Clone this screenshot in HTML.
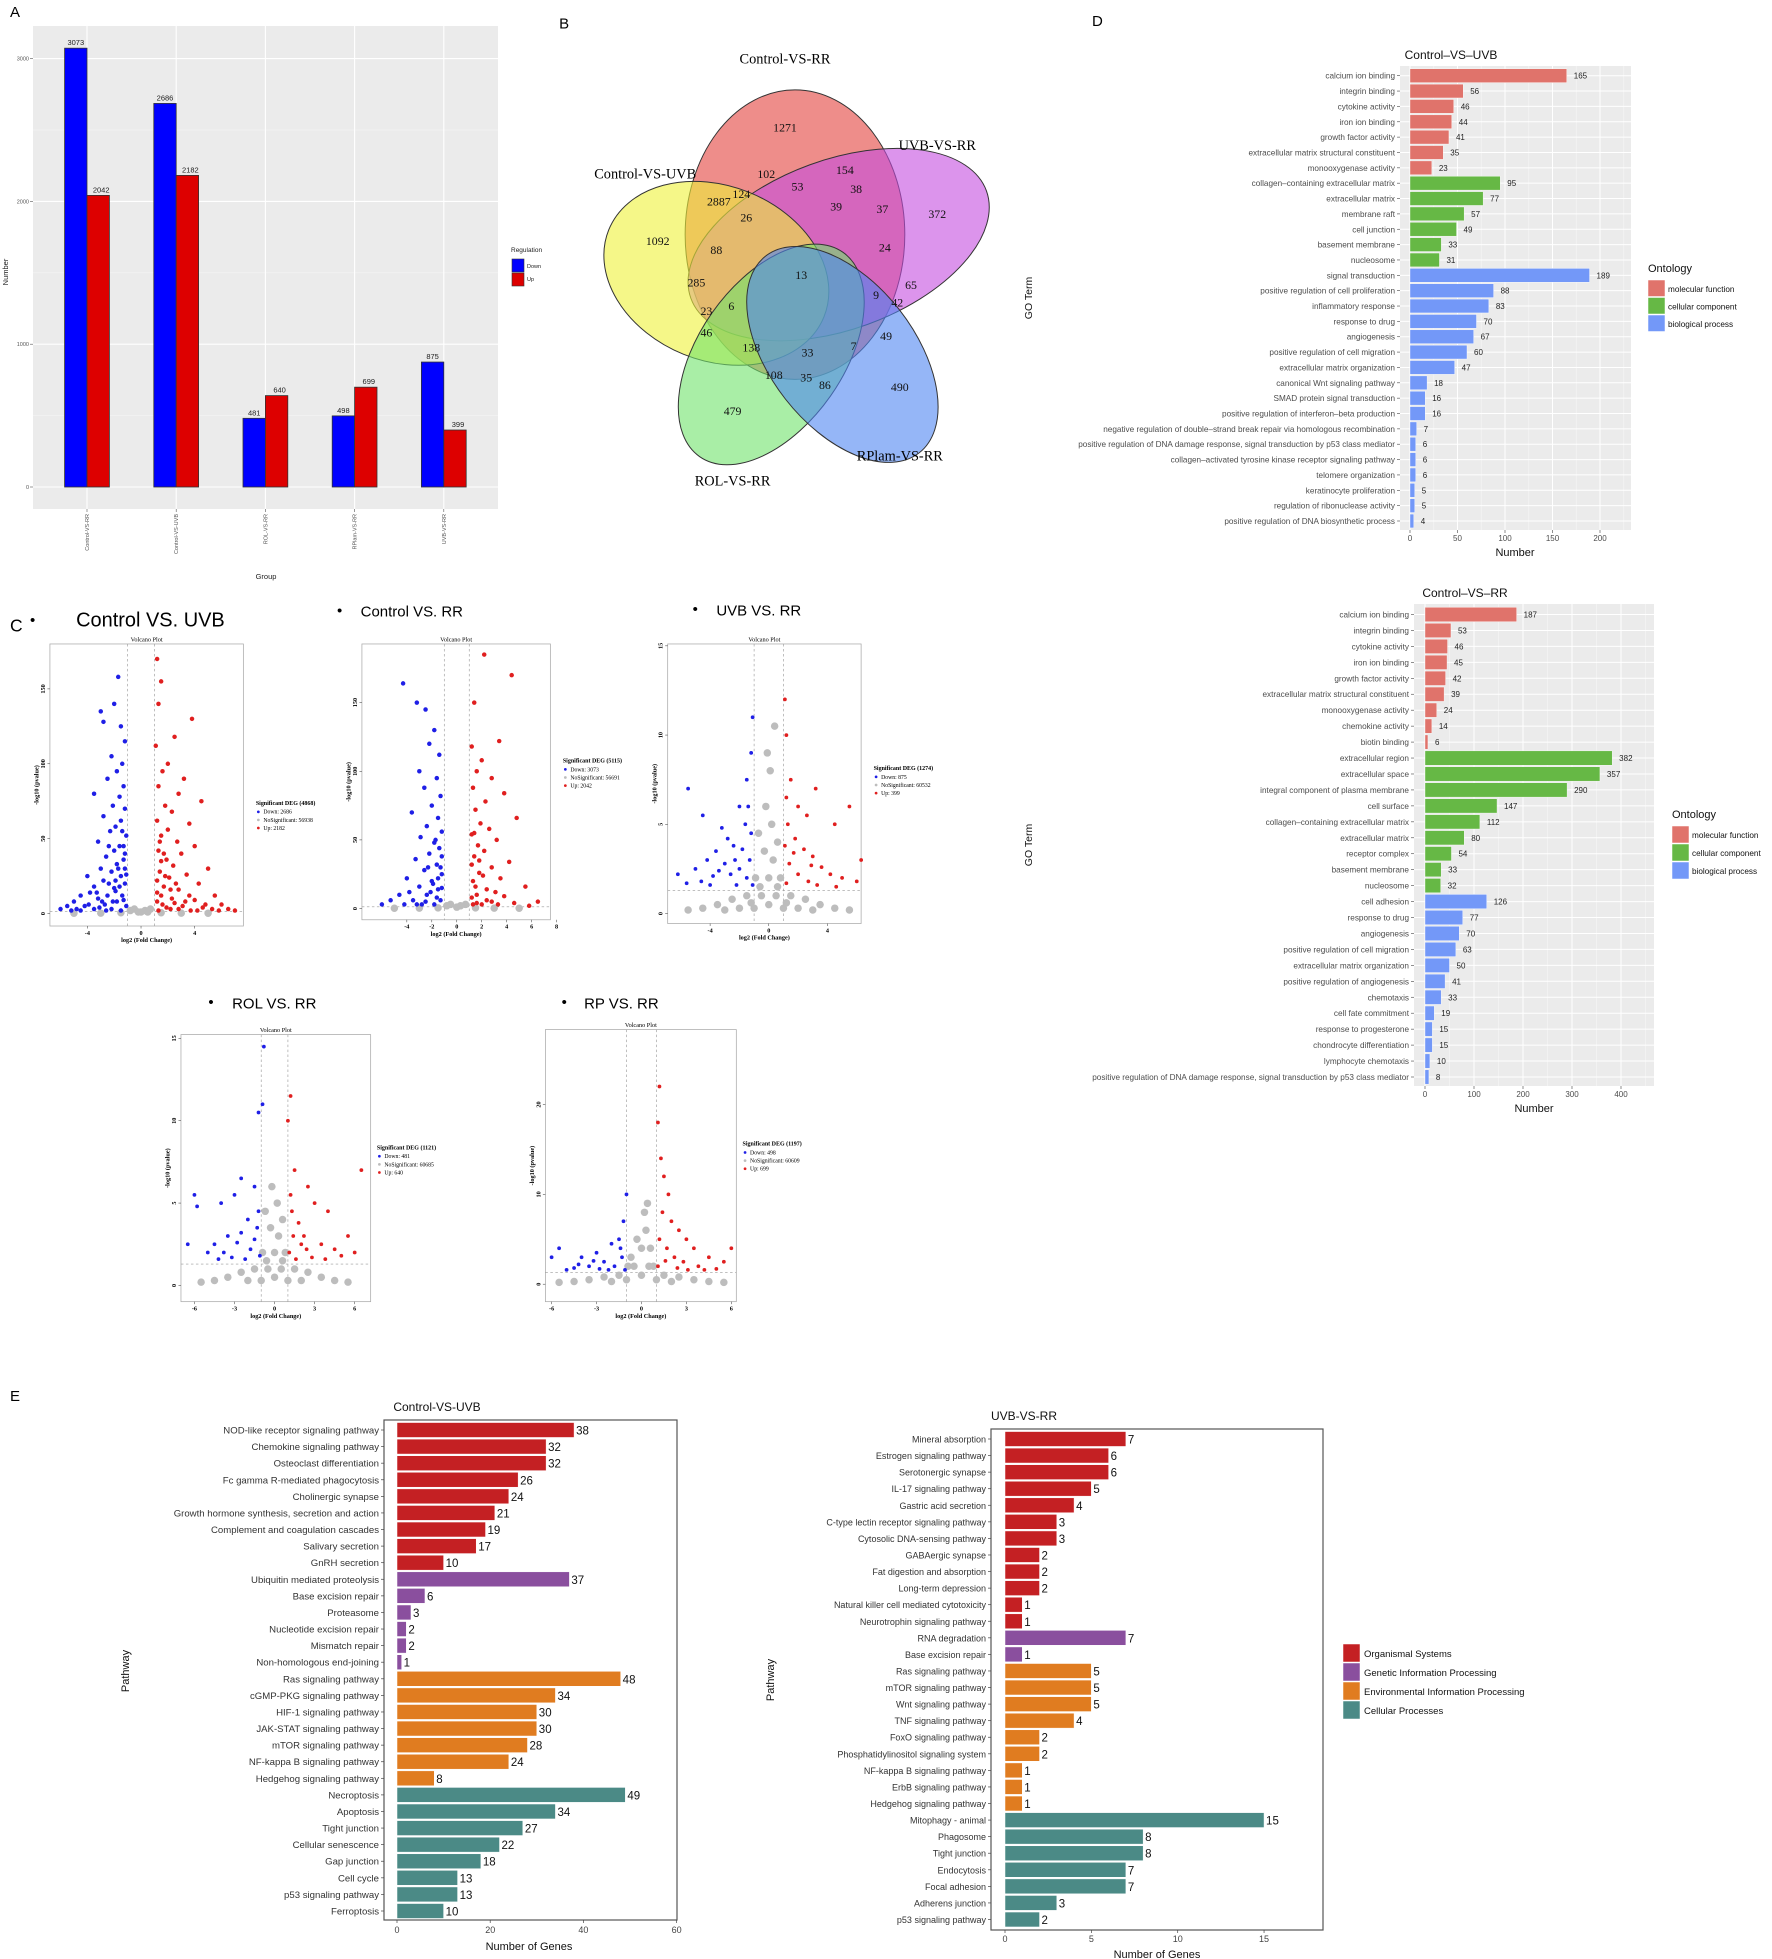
<!DOCTYPE html>
<html><head><meta charset="utf-8">
<style>
html,body{margin:0;padding:0;background:#fff;}
svg{display:block;font-family:"Liberation Sans",sans-serif;}
</style></head>
<body>
<svg id="fig" width="1772" height="1959" viewBox="0 0 1772 1959" xmlns="http://www.w3.org/2000/svg"></svg>
<script>
// ---------------- DATA ----------------
// Panel A
const aGroups=["Control-VS-RR","Control-VS-UVB","ROL-VS-RR","RPlam-VS-RR","UVB-VS-RR"];
const aDown=[3073,2686,481,498,875];
const aUp=[2042,2182,640,699,399];
const aTicks=[0,1000,2000,3000];

// Panel D (GO)
const go1Terms=["calcium ion binding","integrin binding","cytokine activity","iron ion binding","growth factor activity","extracellular matrix structural constituent","monooxygenase activity","collagen\u2013containing extracellular matrix","extracellular matrix","membrane raft","cell junction","basement membrane","nucleosome","signal transduction","positive regulation of cell proliferation","inflammatory response","response to drug","angiogenesis","positive regulation of cell migration","extracellular matrix organization","canonical Wnt signaling pathway","SMAD protein signal transduction","positive regulation of interferon\u2013beta production","negative regulation of double\u2013strand break repair via homologous recombination","positive regulation of DNA damage response, signal transduction by p53 class mediator","collagen\u2013activated tyrosine kinase receptor signaling pathway","telomere organization","keratinocyte proliferation","regulation of ribonuclease activity","positive regulation of DNA biosynthetic process"];
const go1Values=[165,56,46,44,41,35,23,95,77,57,49,33,31,189,88,83,70,67,60,47,18,16,16,7,6,6,6,5,5,4];
const go1Cats=[0,0,0,0,0,0,0,1,1,1,1,1,1,2,2,2,2,2,2,2,2,2,2,2,2,2,2,2,2,2];
const go1Ticks=[0,50,100,150,200];

const go2Terms=["calcium ion binding","integrin binding","cytokine activity","iron ion binding","growth factor activity","extracellular matrix structural constituent","monooxygenase activity","chemokine activity","biotin binding","extracellular region","extracellular space","integral component of plasma membrane","cell surface","collagen\u2013containing extracellular matrix","extracellular matrix","receptor complex","basement membrane","nucleosome","cell adhesion","response to drug","angiogenesis","positive regulation of cell migration","extracellular matrix organization","positive regulation of angiogenesis","chemotaxis","cell fate commitment","response to progesterone","chondrocyte differentiation","lymphocyte chemotaxis","positive regulation of DNA damage response, signal transduction by p53 class mediator"];
const go2Values=[187,53,46,45,42,39,24,14,6,382,357,290,147,112,80,54,33,32,126,77,70,63,50,41,33,19,15,15,10,8];
const go2Cats=[0,0,0,0,0,0,0,0,0,1,1,1,1,1,1,1,1,1,2,2,2,2,2,2,2,2,2,2,2,2];
const go2Ticks=[0,100,200,300,400];
const goLegend=["molecular function","cellular component","biological process"];

// Panel E (KEGG)
const e1Paths=["NOD-like receptor signaling pathway","Chemokine signaling pathway","Osteoclast differentiation","Fc gamma R-mediated phagocytosis","Cholinergic synapse","Growth hormone synthesis, secretion and action","Complement and coagulation cascades","Salivary secretion","GnRH secretion","Ubiquitin mediated proteolysis","Base excision repair","Proteasome","Nucleotide excision repair","Mismatch repair","Non-homologous end-joining","Ras signaling pathway","cGMP-PKG signaling pathway","HIF-1 signaling pathway","JAK-STAT signaling pathway","mTOR signaling pathway","NF-kappa B signaling pathway","Hedgehog signaling pathway","Necroptosis","Apoptosis","Tight junction","Cellular senescence","Gap junction","Cell cycle","p53 signaling pathway","Ferroptosis"];
const e1Values=[38,32,32,26,24,21,19,17,10,37,6,3,2,2,1,48,34,30,30,28,24,8,49,34,27,22,18,13,13,10];
const e1Cats=[0,0,0,0,0,0,0,0,0,1,1,1,1,1,1,2,2,2,2,2,2,2,3,3,3,3,3,3,3,3];
const e1Ticks=[0,20,40,60];

const e2Paths=["Mineral absorption","Estrogen signaling pathway","Serotonergic synapse","IL-17 signaling pathway","Gastric acid secretion","C-type lectin receptor signaling pathway","Cytosolic DNA-sensing pathway","GABAergic synapse","Fat digestion and absorption","Long-term depression","Natural killer cell mediated cytotoxicity","Neurotrophin signaling pathway","RNA degradation","Base excision repair","Ras signaling pathway","mTOR signaling pathway","Wnt signaling pathway","TNF signaling pathway","FoxO signaling pathway","Phosphatidylinositol signaling system","NF-kappa B signaling pathway","ErbB signaling pathway","Hedgehog signaling pathway","Mitophagy - animal","Phagosome","Tight junction","Endocytosis","Focal adhesion","Adherens junction","p53 signaling pathway"];
const e2Values=[7,6,6,5,4,3,3,2,2,2,1,1,7,1,5,5,5,4,2,2,1,1,1,15,8,8,7,7,3,2];
const e2Cats=[0,0,0,0,0,0,0,0,0,0,0,0,1,1,2,2,2,2,2,2,2,2,2,3,3,3,3,3,3,3];
const e2Ticks=[0,5,10,15];
const eLegend=["Organismal Systems","Genetic Information Processing","Environmental Information Processing","Cellular Processes"];

// Panel B (Venn) counts
const vennSets=["Control-VS-RR","UVB-VS-RR","Control-VS-UVB","ROL-VS-RR","RPlam-VS-RR"];
const vennCounts=[1271,154,102,53,38,2887,124,39,37,372,26,1092,88,24,13,285,65,9,42,23,6,46,49,138,33,7,108,35,86,490,479];

// Panel C (volcano) points [log2FC, -log10 p]
const v1Down=[[-1.7,158],[-2,140],[-3,135],[-2.8,128],[-1.5,125],[-1.2,115],[-2.2,105],[-1.4,100],[-1.8,95],[-2.5,90],[-1.3,85],[-3.5,80],[-1.6,78],[-2.1,72],[-1.2,70],[-2.8,65],[-1.5,62],[-1.9,58],[-2.3,55],[-1.1,52],[-3.2,48],[-1.6,45],[-2,42],[-2.6,38],[-1.3,36],[-1.8,33],[-3,30],[-2.2,28],[-4,25],[-1.5,25],[-2.8,22],[-1.2,20],[-3.5,18],[-2,17],[-4.5,12],[-5,8],[-5.5,5],[-6,3],[-3.8,14],[-2.5,12],[-1.4,12],[-3.2,10],[-1.8,8],[-2.7,6],[-4.2,5],[-1.1,5],[-3.5,3],[-2.2,3],[-5.2,2],[-1.5,2],[-1.3,45],[-1.7,30],[-2.4,20],[-1.2,30],[-1.9,15],[-2.9,8],[-4.8,3],[-3.9,6],[-1.4,55],[-1.2,40],[-2.4,45],[-1.6,18],[-2.1,8],[-3.1,4],[-1.3,9],[-2.6,2],[-4.5,2],[-1.9,22],[-1.1,26],[-3.3,14]];
const v1Up=[[1.2,170],[1.5,155],[1.3,140],[3.8,130],[2.5,118],[1.1,112],[2,100],[1.6,95],[3.2,90],[1.3,85],[2.8,80],[4.5,75],[1.8,72],[2.3,68],[1.2,62],[3.6,60],[2,56],[1.5,52],[2.7,48],[4,45],[1.3,42],[3,40],[1.9,36],[2.4,32],[5,30],[1.4,28],[3.4,26],[2.1,24],[4.3,20],[1.7,18],[2.8,16],[5.5,12],[1.2,14],[3.6,12],[2.3,10],[6,6],[6.5,3],[4.8,6],[1.6,6],[3.1,5],[2.2,3],[4.2,2],[5.8,2],[1.3,2],[1.5,35],[1.8,25],[2.6,20],[1.2,22],[3.3,8],[4.6,4],[5.3,3],[7,2],[1.4,48],[1.7,40],[2.2,16],[1.2,8],[1.9,4],[2.8,3],[3.7,2],[1.5,12],[2.5,7],[4,9]];
const v1Gray=[[-0.5,3],[0.3,2],[0,1],[-0.8,2],[0.7,3],[-0.2,1],[0.5,1],[1.5,0.5],[-1.5,0.5],[3,0.3],[-3,0.3],[-5,0.2],[5,0.2]];
const v2Down=[[-4.3,164],[-3.2,150],[-2.5,145],[-1.8,130],[-2.2,120],[-1.4,112],[-3,100],[-1.6,95],[-2.6,88],[-1.3,82],[-2,75],[-3.6,70],[-1.5,66],[-2.4,60],[-1.2,56],[-2.9,52],[-1.8,48],[-1.4,44],[-2.2,40],[-3.3,36],[-1.6,32],[-2.6,28],[-1.2,25],[-4,22],[-2,20],[-3,16],[-1.5,14],[-4.6,10],[-2.4,10],[-5.3,6],[-3.5,6],[-1.3,6],[-6,3],[-2.8,3],[-4.2,3],[-1.8,3],[-1.5,22],[-2.1,12],[-1.2,38],[-3.8,12],[-1.7,50],[-1.3,30],[-2.3,30],[-1.6,8],[-2.5,5],[-3.2,3],[-1.2,15],[-1.9,18]];
const v2Up=[[2.2,185],[4.4,170],[1.4,150],[3.4,122],[1.2,118],[2,108],[1.6,100],[2.8,95],[1.3,88],[3.8,84],[2.3,78],[1.5,72],[4.8,66],[1.9,62],[2.6,58],[1.2,54],[3.2,50],[1.7,46],[2.2,42],[1.4,38],[4.2,34],[2.8,30],[1.8,26],[3.5,22],[1.3,20],[5.5,16],[2.4,14],[1.6,10],[3.8,9],[6.5,5],[2.8,5],[4.6,4],[1.3,3],[5.8,2],[2,3],[1.5,16],[2.1,24],[1.2,32],[3.1,12],[1.4,55],[1.8,35],[1.2,8],[2.4,6],[3.3,3],[1.6,4]];
const v2Gray=[[-0.5,3],[0.3,2],[0,1],[-0.8,2],[0.7,3],[1.5,0.5],[-1.5,0.5],[3,0.3],[-3,0.3],[-5,0.2],[5,0.2]];
const v3Down=[[-5.5,7],[-4.5,5.5],[-3.2,4.8],[-2.8,4.2],[-2,6],[-1.5,7.5],[-1.2,9],[-1.1,11],[-1.6,5],[-2.4,3.8],[-3.6,3.5],[-4.2,3],[-5,2.5],[-3,2.8],[-2,2.5],[-1.3,3],[-1.8,3.6],[-2.6,2.2],[-3.8,2.1],[-1.5,2],[-4.6,1.8],[-5.6,1.7],[-1.1,1.6],[-2.2,1.6],[-6.2,2.2],[-1.2,4.5],[-1.4,6],[-2.3,3],[-3.4,2.4],[-4,1.6]];
const v3Up=[[1.1,12],[1.2,10],[1.5,7.5],[2,6],[2.6,5.5],[3.2,7],[4.5,5],[5.5,6],[1.3,5],[1.8,4.2],[2.4,3.6],[3,3.2],[3.6,2.6],[4.2,2.2],[5,2],[6,1.8],[1.4,2.8],[2,2.2],[2.7,1.8],[1.2,1.7],[3.3,1.6],[4.6,1.5],[1.7,3.4],[2.9,2.7],[6.3,3],[1.2,6.5],[1.1,3.8]];
const v3Gray=[[0,0.5],[0.5,1],[-0.5,1],[0,2],[0.3,3],[-0.3,3.5],[0.2,5],[-0.2,6],[0.6,4],[-0.7,4.5],[0.8,2],[-0.9,2],[1.5,1],[-1.5,1],[2.5,0.8],[-2.5,0.8],[3.5,0.5],[-3.5,0.5],[4.5,0.3],[-4.5,0.3],[5.5,0.2],[-5.5,0.2],[2,0.3],[-2,0.3],[0.1,8],[-0.1,9],[0.4,10.5],[1,0.3],[-1,0.3],[3,0.2],[-3,0.2],[0.6,1.5],[-0.6,1.5],[1.2,0.6],[-1.2,0.6]];
const v4Down=[[-0.8,14.5],[-0.9,11],[-1.2,10.5],[-1.5,6],[-2.5,6.5],[-3,5.5],[-4,5],[-6,5.5],[-5.8,4.8],[-2,4],[-1.3,3.5],[-3.5,3],[-4.5,2.5],[-2.8,2.6],[-1.8,2.2],[-5,2],[-6.5,2.5],[-1.1,1.8],[-3.2,1.7],[-2.2,1.6],[-4.2,1.6],[-1.5,2.8],[-2.5,3.2],[-1.2,4.5],[-3.8,2]];
const v4Up=[[1.2,11.5],[1,10],[1.5,7],[2.5,6],[3,5],[4,4.5],[6.5,7],[5.5,3],[1.3,4.5],[1.8,3.8],[2.2,3],[3.5,2.5],[4.5,2.2],[5,1.8],[6,2],[1.1,2],[2.8,1.7],[1.6,1.6],[3.8,1.6],[2.4,2.2],[1.4,3],[1.2,5.5],[2,2.5]];
const v4Gray=[[0,0.5],[0.5,1],[-0.5,1],[0,2],[0.3,3],[-0.3,3.5],[0.2,5],[-0.2,6],[0.6,4],[-0.7,4.5],[0.8,2],[-0.9,2],[1.5,1],[-1.5,1],[2.5,0.8],[-2.5,0.8],[3.5,0.5],[-3.5,0.5],[4.5,0.3],[-4.5,0.3],[5.5,0.2],[-5.5,0.2],[2,0.3],[-2,0.3],[1,0.3],[-1,0.3],[0.6,1.5],[-0.6,1.5]];
const v5Down=[[-1,10],[-1.2,7],[-1.5,5],[-2,4.5],[-3,3.5],[-4,3],[-5.5,4],[-6,3],[-2.5,2.5],[-1.3,3],[-3.5,2],[-4.5,1.8],[-1.8,2],[-2.8,1.7],[-5,1.6],[-1.1,1.6],[-2.2,1.6],[-3.2,2.6],[-4.2,2.2],[-1.4,4]];
const v5Up=[[1.2,22],[1.1,18],[1.3,14],[1.5,12],[1.8,10],[2,7],[1.4,8],[2.5,6],[3,5],[3.5,4],[4.5,3],[5.5,2.5],[6,4],[1.2,5],[1.7,4],[2.2,3],[2.8,2.5],[3.8,2],[4.2,1.6],[5,1.7],[1.1,2],[1.6,2.6],[3.1,1.6],[2.4,1.8]];
const v5Gray=[[0,1],[0.5,2],[-0.5,2],[0,4],[0.3,6],[-0.3,5],[0.2,8],[0.4,9],[0.6,4],[-0.7,3],[0.8,2],[-0.9,2],[1.5,1],[-1.5,1],[2.5,0.8],[-2.5,0.8],[3.5,0.5],[-3.5,0.5],[4.5,0.3],[-4.5,0.3],[5.5,0.2],[-5.5,0.2],[2,0.3],[-2,0.3],[1,0.5],[-1,0.5]];

// ---------------- HELPERS ----------------
const NS="http://www.w3.org/2000/svg";
const svg=document.getElementById('fig');
function mk(tag,parent,attrs){const e=document.createElementNS(NS,tag);for(const k in attrs)e.setAttribute(k,attrs[k]);(parent||svg).appendChild(e);return e;}
function txt(parent,x,y,s,attrs){const t=mk('text',parent,Object.assign({x:x,y:y},attrs||{}));t.textContent=s;return t;}

// ---------------- PANEL A ----------------
(function(){
  const g=mk('g',svg,{});
  
  
  const L=33,R=498,T=26,B=509,y0=487,k=0.1428;
  const ya=v=>y0-v*k;
  const l=txt(g,10,17,"A",{'font-size':15});
  
  
  const bg=mk('rect',g,{x:L,y:T,width:R-L,height:B-T,fill:'#ebebeb'});
  
  
  [500,1500,2500].forEach(v=>mk('line',g,{x1:L,x2:R,y1:ya(v),y2:ya(v),stroke:'#f5f5f5','stroke-width':0.6}));
  aTicks.forEach(v=>{
    mk('line',g,{x1:L,x2:R,y1:ya(v),y2:ya(v),stroke:'#fff','stroke-width':1.1});
    mk('line',g,{x1:L-3,x2:L,y1:ya(v),y2:ya(v),stroke:'#555','stroke-width':0.6});
    const t=txt(g,L-4,ya(v)+2,String(v),{'font-size':5.5,'text-anchor':'end',fill:'#555'});
    
    
  });
  const bw=22.4;
  aGroups.forEach((gname,i)=>{
    const xc=87+i*89.2;
    mk('line',g,{x1:xc,x2:xc,y1:T,y2:B,stroke:'#fff','stroke-width':1.1});
    const bd=mk('rect',g,{x:xc-bw,y:ya(aDown[i]),width:bw,height:aDown[i]*k,fill:'#0000ff',stroke:'#333','stroke-width':0.8});
    
    
    const bu=mk('rect',g,{x:xc,y:ya(aUp[i]),width:bw,height:aUp[i]*k,fill:'#dd0000',stroke:'#333','stroke-width':0.8});
    
    
    const td=txt(g,xc-bw/2,ya(aDown[i])-3,String(aDown[i]),{'font-size':7.5,'text-anchor':'middle',fill:'#222'});
    
    
    const tu=txt(g,xc+bw/2+3,ya(aUp[i])-3,String(aUp[i]),{'font-size':7.5,'text-anchor':'middle',fill:'#222'});
    
    
    mk('line',g,{x1:xc,x2:xc,y1:B,y2:B+3,stroke:'#555','stroke-width':0.6});
    const xl=txt(g,0,0,gname,{'font-size':5.5,'text-anchor':'end',fill:'#555',transform:`translate(${xc+2},${B+5}) rotate(-90)`});
    
    
  });
  const xt=txt(g,266,579,"Group",{'font-size':7.5,'text-anchor':'middle',fill:'#222'});
  
  
  const yt=txt(g,0,0,"Number",{'font-size':7.5,'text-anchor':'middle',fill:'#222',transform:'translate(8,272) rotate(-90)'});
  
  
  const lg=mk('g',g,{});
  
  
  txt(lg,511,252,"Regulation",{'font-size':6.5,fill:'#222'});
  const k1=mk('rect',lg,{x:512,y:259,width:12,height:13,fill:'#0000ff',stroke:'#333','stroke-width':0.6});
  
  
  txt(lg,527,268,"Down",{'font-size':5.5,fill:'#222'});
  const k2=mk('rect',lg,{x:512,y:273,width:12,height:13,fill:'#dd0000',stroke:'#333','stroke-width':0.6});
  
  
  txt(lg,527,281,"Up",{'font-size':5.5,fill:'#222'});
})();

// ---------------- PANEL B (Venn) & C (Volcano), presented coords scaled ----------------
const S=mk('g',svg,{transform:'scale(1.248)'});


(function(){
  const g=mk('g',S,{});
  
  
  txt(g,448,23,"B",{'font-size':12});
  const ells=[
    {cx:637,cy:188,rx:88,ry:116,rot:0,fill:'#e3413c'},
    {cx:672,cy:196,rx:126,ry:68,rot:-20,fill:'#c44de0'},
    {cx:574,cy:219,rx:93,ry:70,rot:22,fill:'#eef238'},
    {cx:618,cy:284,rx:100,ry:58,rot:-55,fill:'#6fe36b'},
    {cx:675,cy:284,rx:100,ry:58,rot:52,fill:'#4f86f2'}
  ];
  ells.forEach((e,i)=>{
    const el=mk('ellipse',g,{cx:e.cx,cy:e.cy,rx:e.rx,ry:e.ry,transform:`rotate(${e.rot} ${e.cx} ${e.cy})`,fill:e.fill,'fill-opacity':0.6,stroke:'#333','stroke-width':0.8});
    
    
  });
  const setLab=[[629,51],[751,120],[517,143],[587,389],[721,369]];
  vennSets.forEach((s,i)=>{
    const t=txt(g,setLab[i][0],setLab[i][1],s,{'font-size':11.5,'text-anchor':'middle','font-family':'Liberation Serif, serif'});
    
    
  });
  const pos=[[629,102],[677,136],[614,139],[639,149],[686,151],[576,161],[594,155],[670,165],[707,167],[751,171],[598,174],[527,193],[574,200],[709,198],[642,220],[558,226],[730,228],[702,236],[719,242],[566,249],[586,245],[566,266],[710,269],[602,278],[647,282],[684,277],[620,300],[646,302],[661,308],[721,310],[587,329]];
  vennCounts.forEach((c,i)=>{
    const t=txt(g,pos[i][0],pos[i][1]+3.5,String(c),{'font-size':9.5,'text-anchor':'middle','font-family':'Liberation Serif, serif',fill:'#111'});
    
    
  });
})();

const volcs=[
 {title:"Control VS. UVB",bx:24,tx:61,ty:502,ts:16,box:[40,516,195,742],x0:113,xs:10.75,y0:732,ys:1.2,xt:[-4,0,4],yt:[0,50,100,150],leg:[205,645],tot:4868,dn:2686,ns:56938,up:2182,d:v1Down,u:v1Up,gr:v1Gray,r:1.8},
 {title:"Control VS. RR",bx:270,tx:289,ty:494,ts:12,box:[290,516,441,737],x0:366,xs:10,y0:728,ys:1.1,xt:[-4,-2,0,2,4,6,8],yt:[0,50,100,150],leg:[451,611],tot:5115,dn:3073,ns:56691,up:2042,d:v2Down,u:v2Up,gr:v2Gray,r:1.8},
 {title:"UVB VS. RR",bx:555,tx:574,ty:493,ts:12,box:[535,516,690,740],x0:616,xs:11.75,y0:732,ys:14.3,xt:[-4,0,4],yt:[0,5,10,15],leg:[700,617],tot:1274,dn:875,ns:60532,up:399,d:v3Down,u:v3Up,gr:v3Gray,r:1.5},
 {title:"ROL VS. RR",bx:167,tx:186,ty:808,ts:12,box:[145,829,297,1043],x0:220,xs:10.7,y0:1030,ys:13.2,xt:[-6,-3,0,3,6],yt:[0,5,10,15],leg:[302,921],tot:1121,dn:481,ns:60685,up:640,d:v4Down,u:v4Up,gr:v4Gray,r:1.5},
 {title:"RP VS. RR",bx:450,tx:468,ty:808,ts:12,box:[437,825,590,1043],x0:514,xs:12,y0:1029,ys:7.2,xt:[-6,-3,0,3,6],yt:[0,10,20],leg:[595,918],tot:1197,dn:498,ns:60609,up:699,d:v5Down,u:v5Up,gr:v5Gray,r:1.5}
];
txt(S,8,506,"C",{'font-size':14});
volcs.forEach((v,i)=>{
  const g=mk('g',S,{});
  
  
  const serif={'font-family':'Liberation Serif, serif'};
  txt(g,v.bx,v.ty-1,"\u2022",{'font-size':12});
  const tt=txt(g,v.tx,v.ty,v.title,{'font-size':v.ts});
  
  
  const [L,T,R,B]=v.box;
  mk('rect',g,{x:L,y:T,width:R-L,height:B-T,fill:'#fff',stroke:'#aaa','stroke-width':0.6});
  txt(g,(L+R)/2,T-2,"Volcano Plot",Object.assign({'font-size':5,'text-anchor':'middle'},serif));
  const X=x=>v.x0+x*v.xs, Y=y=>v.y0-y*v.ys;
  v.xt.forEach(t=>{mk('line',g,{x1:X(t),x2:X(t),y1:B,y2:B+2,stroke:'#333','stroke-width':0.4});
    txt(g,X(t),B+7,String(t),Object.assign({'font-size':5,'text-anchor':'middle','font-weight':'bold'},serif));});
  v.yt.forEach(t=>{mk('line',g,{x1:L-2,x2:L,y1:Y(t),y2:Y(t),stroke:'#333','stroke-width':0.4});
    txt(g,0,0,String(t),Object.assign({'font-size':5,'text-anchor':'middle','font-weight':'bold',transform:`translate(${L-4},${Y(t)}) rotate(-90)`},serif));});
  txt(g,(L+R)/2,B+13,"log2 (Fold Change)",Object.assign({'font-size':5,'text-anchor':'middle','font-weight':'bold'},serif));
  txt(g,0,0,"-log10 (pvalue)",Object.assign({'font-size':5,'text-anchor':'middle','font-weight':'bold',transform:`translate(${L-9},${(T+B)/2}) rotate(-90)`},serif));
  mk('line',g,{x1:X(-1),x2:X(-1),y1:T,y2:B,stroke:'#999','stroke-width':0.5,'stroke-dasharray':'2,2'});
  mk('line',g,{x1:X(1),x2:X(1),y1:T,y2:B,stroke:'#999','stroke-width':0.5,'stroke-dasharray':'2,2'});
  mk('line',g,{x1:L,x2:R,y1:Y(1.3),y2:Y(1.3),stroke:'#999','stroke-width':0.5,'stroke-dasharray':'2,2'});
  v.gr.forEach(p=>{const c=mk('circle',g,{cx:X(p[0]),cy:Y(p[1]),r:3,fill:'#bdbdbd'});
    
    });
  v.d.forEach(p=>{const c=mk('circle',g,{cx:X(p[0]),cy:Y(p[1]),r:v.r,fill:'#1f1fe6'});
    
    });
  v.u.forEach(p=>{const c=mk('circle',g,{cx:X(p[0]),cy:Y(p[1]),r:v.r,fill:'#e01f1f'});
    
    });
  const [lx,ly]=v.leg;
  const lg=mk('g',g,{});
  
  
  txt(lg,lx,ly,`Significant DEG (${v.tot})`,Object.assign({'font-size':4.8,'font-weight':'bold'},serif));
  [["Down: "+v.dn,'#1f1fe6'],["NoSignificant: "+v.ns,'#bdbdbd'],["Up: "+v.up,'#e01f1f']].forEach((e,j)=>{
    mk('circle',lg,{cx:lx+2,cy:ly+5.5+j*6.5,r:1.1,fill:e[1]});
    txt(lg,lx+6,ly+7+j*6.5,e[0],Object.assign({'font-size':4.6},serif));
  });
});

// ---------------- PANEL D (GO) ----------------
const goCol=['#e0736b','#66b845','#7398f8'];
function drawGO(o){
  const g=mk('g',svg,{});
  
  
  const bg=mk('rect',g,{x:o.L,y:o.T,width:o.R-o.L,height:o.B-o.T,fill:'#ebebeb'});
  
  
  const X=v=>o.x0+v*o.k;
  for(let i=1;i<o.ticks.length;i++){
    const m=(o.ticks[i]+o.ticks[i-1])/2; mk('line',g,{x1:X(m),x2:X(m),y1:o.T,y2:o.B,stroke:'#f6f6f6','stroke-width':0.6});
  }
  {const lastStep=o.ticks[1]-o.ticks[0];const m=o.ticks[o.ticks.length-1]+lastStep/2; if(X(m)<o.R) mk('line',g,{x1:X(m),x2:X(m),y1:o.T,y2:o.B,stroke:'#f6f6f6','stroke-width':0.6});}
  o.ticks.forEach(t=>{
    mk('line',g,{x1:X(t),x2:X(t),y1:o.T,y2:o.B,stroke:'#fff','stroke-width':1});
    mk('line',g,{x1:X(t),x2:X(t),y1:o.B,y2:o.B+3,stroke:'#444','stroke-width':0.6});
    const t1=txt(g,X(t),o.B+11,String(t),{'font-size':8,'text-anchor':'middle',fill:'#4d4d4d'});
    
    
  });
  const n=o.terms.length, step=(o.yl-o.yf)/(n-1), bh=step*0.9;
  o.terms.forEach((term,i)=>{
    const yc=o.yf+i*step;
    mk('line',g,{x1:o.L,x2:o.R,y1:yc,y2:yc,stroke:'#fff','stroke-width':1});
  });
  o.terms.forEach((term,i)=>{
    const yc=o.yf+i*step;
    const b=mk('rect',g,{x:X(0),y:yc-bh/2,width:o.vals[i]*o.k,height:bh,fill:goCol[o.cats[i]],stroke:'#fff','stroke-width':0.4});
    
    
    const v=txt(g,X(o.vals[i])+7,yc+3,String(o.vals[i]),{'font-size':8,fill:'#222'});
    
    
    mk('line',g,{x1:o.L-3,x2:o.L,y1:yc,y2:yc,stroke:'#444','stroke-width':0.6});
    const l=txt(g,o.L-5,yc+3,term,{'font-size':8.2,'text-anchor':'end',fill:'#4d4d4d'});
    
    
  });
  const ti=txt(g,o.tx,o.ty,o.title,{'font-size':12,'text-anchor':'middle',fill:'#111'});
  
  
  const xa=txt(g,o.nx,o.ny,"Number",{'font-size':11,'text-anchor':'middle',fill:'#111'});
  
  
  const ya=txt(g,0,0,"GO Term",{'font-size':10.5,'text-anchor':'middle',fill:'#111',transform:`translate(1032,${o.gy}) rotate(-90)`});
  
  
  const lg=mk('g',g,{});
  
  
  txt(lg,o.lx,o.ly,"Ontology",{'font-size':11,fill:'#111'});
  goLegend.forEach((s,j)=>{
    const r=mk('rect',lg,{x:o.lx,y:o.ly+8+j*o.ls,width:17,height:o.ls-1,fill:goCol[j],stroke:'#fff','stroke-width':0.5});
    
    
    txt(lg,o.lx+20,o.ly+8+j*o.ls+o.ls/2+3,s,{'font-size':8.2,fill:'#111'});
  });
}
txt(svg,1092,26,"D",{'font-size':15});
drawGO({name:'go-chart-control-vs-uvb',terms:go1Terms,vals:go1Values,cats:go1Cats,ticks:go1Ticks,L:1400,R:1631,T:66,B:530,x0:1410,k:0.95,yf:75.7,yl:521,title:'Control\u2013VS\u2013UVB',tx:1451,ty:59,nx:1515,ny:556,gy:298,lx:1648,ly:272,ls:17.5});
drawGO({name:'go-chart-control-vs-rr',terms:go2Terms,vals:go2Values,cats:go2Cats,ticks:go2Ticks,L:1414,R:1654,T:604,B:1086,x0:1425,k:0.49,yf:614.5,yl:1077,title:'Control\u2013VS\u2013RR',tx:1465,ty:597,nx:1534,ny:1112,gy:845,lx:1672,ly:818,ls:18});

// ---------------- PANEL E (KEGG) ----------------
const eCol=['#c42023','#8a4f9e','#e07c20','#4b8a86'];
function drawE(o){
  const g=mk('g',svg,{});
  
  
  const bx=mk('rect',g,{x:o.L,y:o.T,width:o.R-o.L,height:o.B-o.T,fill:'#fff',stroke:'#555','stroke-width':1.2});
  
  
  const X=v=>o.x0+v*o.k;
  const n=o.paths.length, step=(o.yl-o.yf)/(n-1), bh=step*0.9;
  o.paths.forEach((p,i)=>{
    const yc=o.yf+i*step;
    const b=mk('rect',g,{x:X(0),y:yc-bh/2,width:o.vals[i]*o.k,height:bh,fill:eCol[o.cats[i]],stroke:'#fff','stroke-width':0.5});
    
    
    const v=txt(g,X(o.vals[i])+2,yc+4.5,String(o.vals[i]),{'font-size':o.vf,fill:'#111'});
    
    
    mk('line',g,{x1:o.L-3,x2:o.L,y1:yc,y2:yc,stroke:'#444','stroke-width':0.7});
    const l=txt(g,o.L-5,yc+3.5,p,{'font-size':o.lf,'text-anchor':'end',fill:'#333'});
    
    
  });
  o.ticks.forEach(t=>{
    mk('line',g,{x1:X(t),x2:X(t),y1:o.B,y2:o.B+3,stroke:'#444','stroke-width':0.7});
    const tl=txt(g,X(t),o.ty2,String(t),{'font-size':9,'text-anchor':'middle',fill:'#444'});
    
    
  });
  const ti=txt(g,o.tx,o.ty,o.title,{'font-size':12,'text-anchor':o.ta,fill:'#111'});
  
  
  const xa=txt(g,o.nx,o.ny,"Number of Genes",{'font-size':11,'text-anchor':'middle',fill:'#111'});
  
  
  const ya=txt(g,0,0,"Pathway",{'font-size':11,'text-anchor':'middle',fill:'#111',transform:`translate(${o.px},${o.py}) rotate(-90)`});
  
  
}
txt(svg,10,1401,"E",{'font-size':15});
drawE({name:'kegg-chart-control-vs-uvb',paths:e1Paths,vals:e1Values,cats:e1Cats,ticks:e1Ticks,L:384,R:677,T:1420,B:1920,x0:397,k:4.66,yf:1430,yl:1911,title:'Control-VS-UVB',tx:437,ty:1411,ta:'middle',nx:529,ny:1950,px:129,py:1671,ty2:1933,lf:9.6,vf:11.5});
drawE({name:'kegg-chart-uvb-vs-rr',paths:e2Paths,vals:e2Values,cats:e2Cats,ticks:e2Ticks,L:991,R:1323,T:1429,B:1930,x0:1005,k:17.27,yf:1439,yl:1919.5,title:'UVB-VS-RR',tx:991,ty:1420,ta:'start',nx:1157,ny:1958,px:774,py:1680,ty2:1942,lf:9,vf:11.5});
(function(){
  const lg=mk('g',svg,{});
  
  
  eLegend.forEach((s,j)=>{
    const y=1644+j*19;
    const r=mk('rect',lg,{x:1343,y:y,width:17,height:18,fill:eCol[j],stroke:'#fff','stroke-width':0.5});
    
    
    txt(lg,1364,y+13,s,{'font-size':9.5,fill:'#111'});
  });
})();
</script>
</body></html>
